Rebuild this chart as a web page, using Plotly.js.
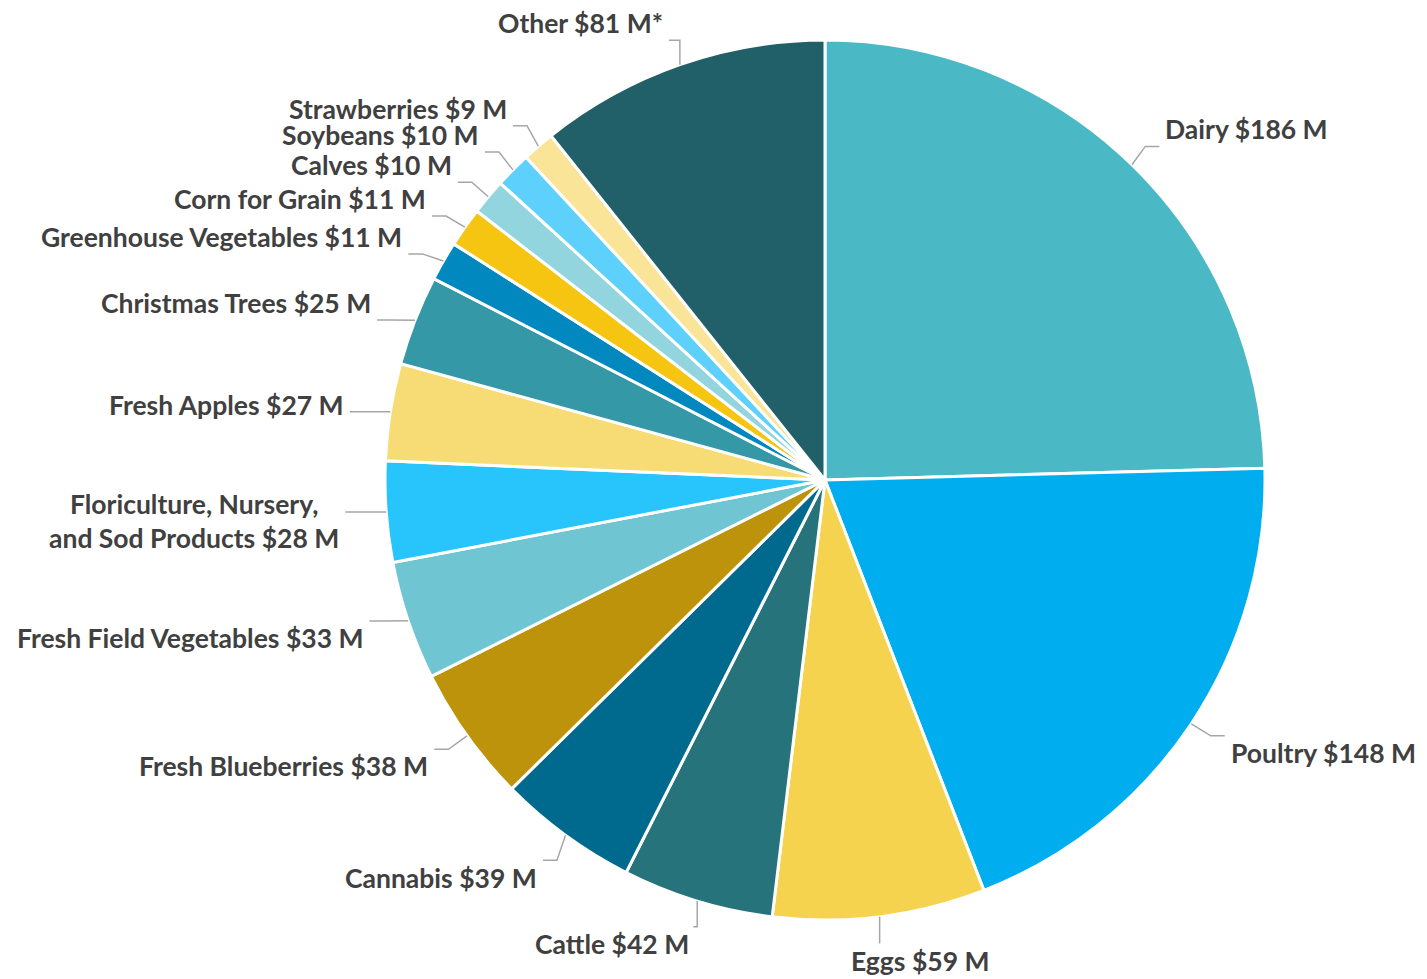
<!DOCTYPE html>
<html><head><meta charset="utf-8">
<script src="https://cdn.plot.ly/plotly-3.0.1.min.js"></script>
<style>html,body{margin:0;padding:0;background:#fff;overflow:hidden}#chart{width:1427px;height:979px}</style>
</head><body><div id="chart"></div>
<script>
const categories = ['Dairy', 'Poultry', 'Eggs', 'Cattle', 'Cannabis', 'Fresh Blueberries',
  'Fresh Field Vegetables', 'Floriculture, Nursery,<br>and Sod Products', 'Fresh Apples',
  'Christmas Trees', 'Greenhouse Vegetables', 'Corn for Grain', 'Calves', 'Soybeans',
  'Strawberries', 'Other'];
const values = [186, 148, 59, 42, 39, 38, 33, 28, 27, 25, 11, 11, 10, 10, 9, 81];
const footnoteMarks = ['', '', '', '', '', '', '', '', '', '', '', '', '', '', '', '*'];
const colors = ['#4BB8C6', '#00AEEF', '#F6D34F', '#26737B', '#006A8E', '#BC930A',
  '#6FC5D1', '#28C4FC', '#F7DC76', '#3598A6', '#0088BF', '#F5C512', '#93D5DE',
  '#5DD1FC', '#F9E498', '#215F69'];

// ---- layout constants ----
const W = 1427, H = 979, CX = 825, CY = 480, R = 440;
const FS = 26.5, FAMILY = 'Lato, "Open Sans", sans-serif', TXT = '#404040', LINE = '#A6A6A6';
const LINE_H = 1.3 * FS;

const total = values.reduce((a, b) => a + b, 0);
const ctx = document.createElement('canvas').getContext('2d');
ctx.font = 'bold ' + FS + 'px Lato';

const annotations = [], shapes = [];
let cum = 0;
const px = x => x / W, py = y => 1 - y / H;

values.forEach((v, i) => {
  const mid = (cum + v / 2) / total * 2 * Math.PI;
  cum += v;
  const s = Math.sin(mid), c = Math.cos(mid);
  const text = categories[i] + ' $' + v + ' M' + footnoteMarks[i];
  const lines = text.split('<br>');
  const w = Math.max(...lines.map(l => ctx.measureText(l).width));
  const h = lines.length * LINE_H;
  const S = {x: CX + R * s, y: CY - R * c};
  let left, right, top, bottom, ann;
  if (Math.abs(s) >= 0.3) {
    const spread = c > 0.9 ? 0 : -6 * c;
    const P = {x: CX + (R + 45) * s, y: CY - (R + 45) * c + spread + 1 + (lines.length - 1) * 4};
    if (s > 0) { left = P.x; right = P.x + w; } else { right = P.x; left = P.x - w; }
    top = P.y - h / 2; bottom = P.y + h / 2;
    ann = {x: px(P.x), y: py(P.y), xanchor: s > 0 ? 'left' : 'right', yanchor: 'middle'};
  } else {
    const P = {x: CX + (R + 27) * s, y: CY - (R + 27) * c};
    const f = Math.min(1, Math.max(0, 0.5 - 2.2 * s));
    left = P.x - f * w; right = left + w;
    if (c < 0) { top = P.y; bottom = P.y + h; } else { bottom = P.y; top = P.y - h; }
    ann = {x: px((left + right) / 2), y: py((top + bottom) / 2), xanchor: 'center', yanchor: 'middle'};
  }
  annotations.push(Object.assign(ann, {
    xref: 'paper', yref: 'paper', text: text, showarrow: false, align: 'center',
    font: {family: FAMILY, size: FS, color: TXT, weight: 700}
  }));
  // leader line: slice edge -> nearest point of label box, with a short horizontal landing
  const bl = left - 4, br = right + 4;
  const qx = Math.min(br, Math.max(bl, S.x)), qy = Math.min(bottom, Math.max(top, S.y));
  const cornerX = qx !== S.x, cornerY = qy !== S.y;
  let path = 'M' + px(S.x) + ',' + py(S.y);
  if (cornerX && cornerY) {
    const dx = S.x - qx;
    const lx = qx + Math.sign(dx) * Math.min(14, Math.abs(dx));
    path += ' L' + px(lx) + ',' + py(qy);
  }
  path += ' L' + px(qx) + ',' + py(qy);
  shapes.push({type: 'path', xref: 'paper', yref: 'paper', path: path,
    line: {color: LINE, width: 1.5}, layer: 'above'});
});

const trace = {
  type: 'pie', labels: categories, values: values, sort: false,
  direction: 'clockwise', rotation: 0,
  marker: {colors: colors, line: {color: '#FFFFFF', width: 3}},
  textinfo: 'none', hoverinfo: 'label+value', showlegend: false,
  domain: {x: [(CX - R) / W, (CX + R) / W], y: [1 - (CY + R) / H, 1 - (CY - R) / H]}
};

Plotly.newPlot('chart', [trace], {
  width: W, height: H, margin: {l: 0, r: 0, t: 0, b: 0},
  paper_bgcolor: '#FFFFFF', plot_bgcolor: '#FFFFFF',
  annotations: annotations, shapes: shapes, showlegend: false
}, {displayModeBar: false, staticPlot: true});
</script>
</body></html>
